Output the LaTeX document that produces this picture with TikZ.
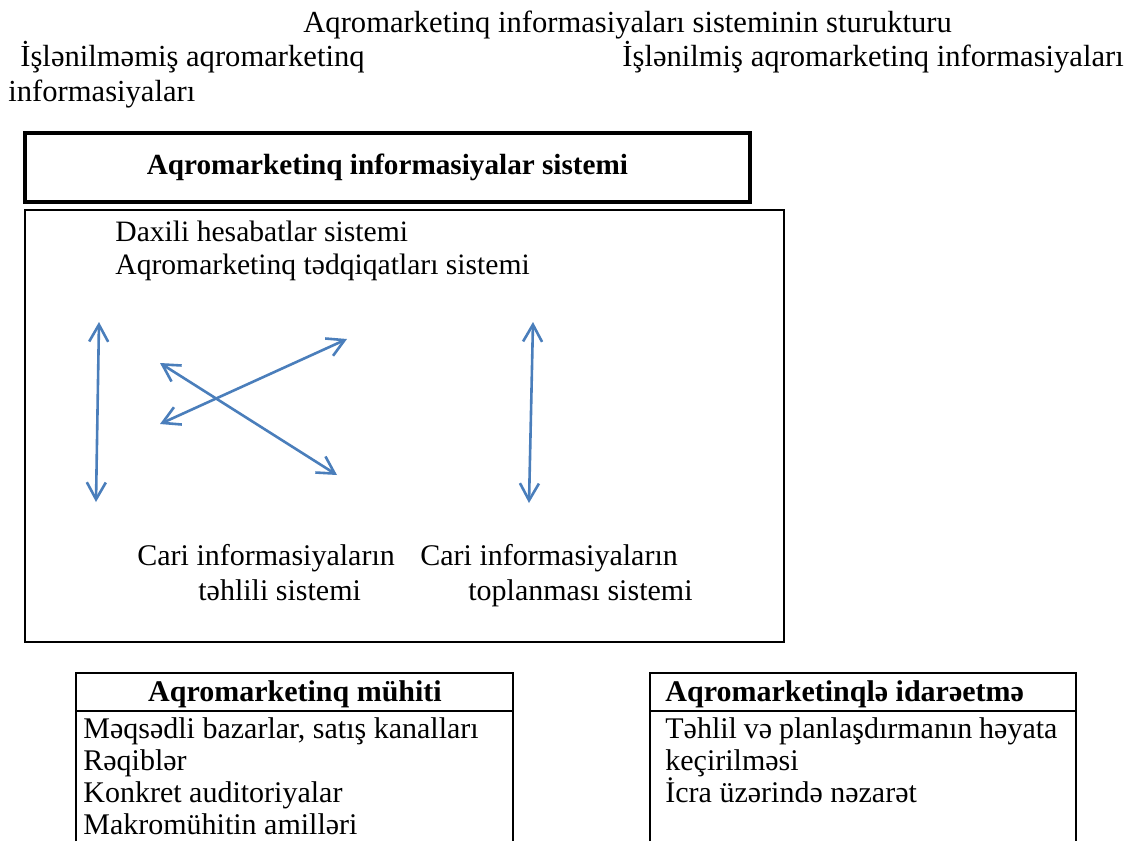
\documentclass[tikz,border=0pt]{standalone}
\usepackage{fontspec}
\setmainfont{Liberation Serif}
\usetikzlibrary{arrows.meta}
\definecolor{arrowblue}{HTML}{4A7EBB}

\begin{document}
\begin{tikzpicture}[x=0.5pt,y=-0.5pt,
    txt/.style={inner sep=0pt,anchor=base west,font=\fontsize{15}{18}\selectfont},
    toptxt/.style={txt,font=\fontsize{15.3}{18}\selectfont},
    intxt/.style={txt,font=\fontsize{14.8}{18}\selectfont},
    head/.style={inner sep=0pt,anchor=base,font=\fontsize{15}{18}\selectfont\bfseries},
    boxline/.style={line width=1pt},
    flow/.style={arrowblue,line width=1.3pt,{Straight Barb[length=8.5pt,width=9.5pt]}-{Straight Barb[length=8.5pt,width=9.5pt]}}]
  \useasboundingbox (0,0) rectangle (1134,841);

  % heading lines
  \node[toptxt] (title) at (303,32) {Aqromarketinq informasiyaları sisteminin sturukturu};
  \node[toptxt] (rawa) at (20,66) {İşlənilməmiş aqromarketinq};
  \node[toptxt] (rawb) at (8,101) {informasiyaları};
  \node[toptxt] (done) at (622,66) {İşlənilmiş aqromarketinq informasiyaları};

  % system box
  \node[draw,line width=2.2pt,minimum width=362.5pt,minimum height=34.5pt,inner sep=0pt,
        font=\fontsize{14.6}{17}\selectfont\bfseries] (mis) at (387.5,167.5)
        {Aqromarketinq informasiyalar sistemi};
  \draw[boxline] (25,210) rectangle (784,642);
  \node[intxt] (daxili) at (115,241) {Daxili hesabatlar sistemi};
  \node[intxt] (tedqiq) at (115,274) {Aqromarketinq tədqiqatları sistemi};
  \node[txt] (tehlila) at (137,565) {Cari informasiyaların};
  \node[txt] (tehlilb) at (198,600) {təhlili sistemi};
  \node[txt] (toplaa) at (420,565) {Cari informasiyaların};
  \node[txt] (toplab) at (468,600) {toplanması sistemi};

  % arrows
  \coordinate (la) at (99,322);  \coordinate (lb) at (96,502);
  \coordinate (xa) at (160,363); \coordinate (xb) at (337,475);
  \coordinate (ya) at (160,424); \coordinate (yb) at (347,339);
  \coordinate (ra) at (533,322); \coordinate (rb) at (529,503);
  \draw[flow] (la) -- (lb);
  \draw[flow] (xa) -- (xb);
  \draw[flow] (ya) -- (yb);
  \draw[flow] (ra) -- (rb);

  % environment
  \draw[boxline] (76,841) |- (513,673) -- (513,841);
  \draw[boxline] (76,711) -- (513,711);
  \node[head] (env) at (295,701) {Aqromarketinq mühiti};
  \node[txt] (env1) at (83,738) {Məqsədli bazarlar, satış kanalları};
  \node[txt] (env2) at (83,770) {Rəqiblər};
  \node[txt] (env3) at (83,802) {Konkret auditoriyalar};
  \node[txt] (env4) at (83,834) {Makromühitin amilləri};

  % management
  \draw[boxline] (650,841) |- (1076,673) -- (1076,841);
  \draw[boxline] (650,711) -- (1076,711);
  \node[head,anchor=base west] (man) at (665,701) {Aqromarketinqlə idarəetmə};
  \node[txt] (man1) at (665,738) {\makebox[196pt][s]{Təhlil və planlaşdırmanın həyata}};
  \node[txt] (man2) at (665,770) {keçirilməsi};
  \node[txt] (man3) at (665,802) {İcra üzərində nəzarət};
\end{tikzpicture}
\end{document}
